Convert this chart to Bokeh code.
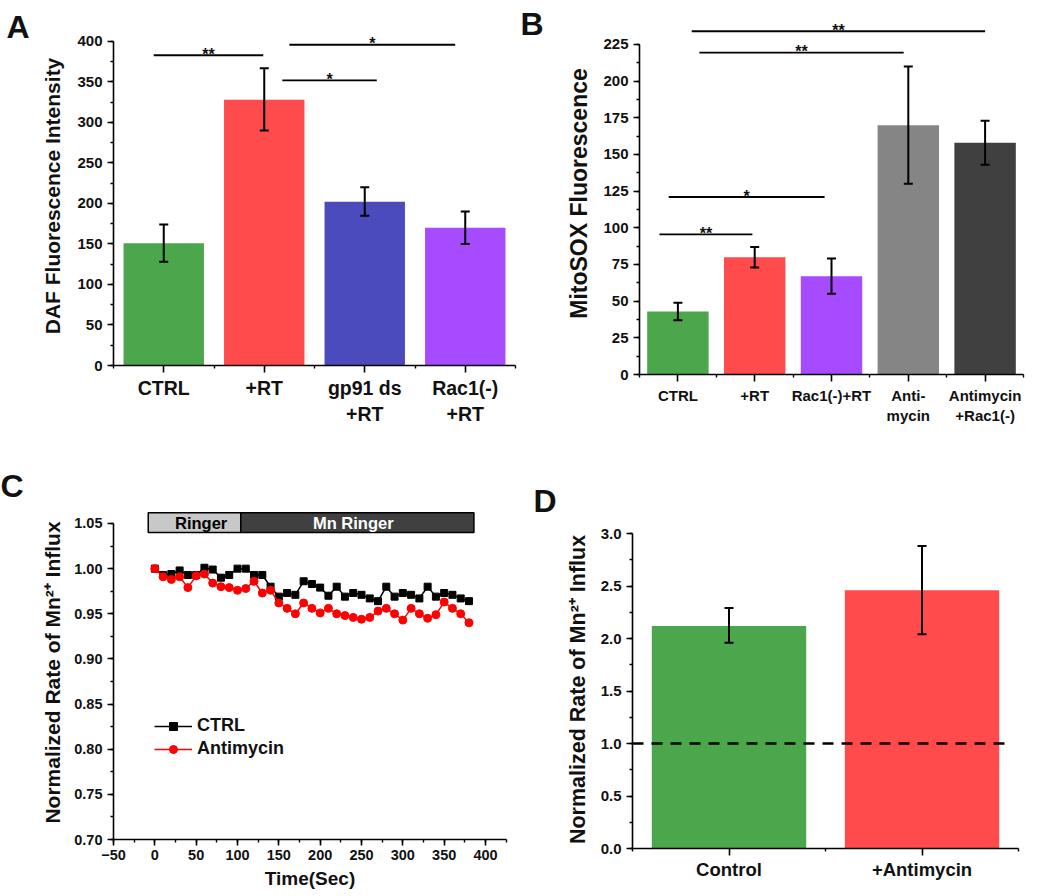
from bokeh.plotting import figure
from bokeh.layouts import column, row
from bokeh.models import (Range1d, FixedTicker, SingleIntervalTicker, Whisker, ColumnDataSource,
                          Label, PrintfTickFormatter, Legend, LegendItem)
from bokeh.embed import file_html
from bokeh.resources import INLINE
from bokeh.core.properties import value

FONT = "Liberation Sans"

# ---------------- Panel A data ----------------
a_categories = ["CTRL", "+RT", "gp91 ds\n+RT", "Rac1(-)\n+RT"]
a_values = [151, 328, 202, 170]
a_lower = [128, 290, 185, 150]
a_upper = [174, 367, 220, 190]
a_colors = ["#4CA64C", "#FF4B4B", "#4B4BBE", "#A64BFF"]
a_sig_x0 = [0.9, 2.25, 2.18]
a_sig_x1 = [1.99, 3.9, 3.12]
a_sig_y = [383, 396, 352]
a_sig_text = ["**", "*", "*"]

# ---------------- Panel B data ----------------
b_categories = ["CTRL", "+RT", "Rac1(-)+RT", "Anti-\nmycin", "Antimycin\n+Rac1(-)"]
b_values = [43, 80, 67, 170, 158]
b_lower = [37, 73, 55, 130, 143]
b_upper = [49, 87, 79, 210, 173]
b_colors = ["#4CA64C", "#FF4B4B", "#A64BFF", "#858585", "#404040"]
b_sig_x0 = [1.18, 1.28, 0.88, 0.76]
b_sig_x1 = [5.0, 3.94, 2.91, 1.97]
b_sig_y = [234, 219.5, 121, 95.5]
b_sig_text = ["**", "**", "*", "**"]

# ---------------- Panel C data ----------------
c_time = [0, 10, 20, 30, 40, 50, 60, 70, 80, 90, 100, 110, 120, 130, 140, 150, 160, 170, 180, 190,
          200, 210, 220, 230, 240, 250, 260, 270, 280, 290, 300, 310, 320, 330, 340, 350, 360, 370, 380]
c_ctrl = [1.000, 0.993, 0.994, 0.998, 0.993, 0.993, 1.001, 0.999, 0.990, 0.993,
          1.000, 1.000, 0.993, 0.993, 0.980, 0.969, 0.973, 0.971, 0.986, 0.983,
          0.979, 0.970, 0.980, 0.969, 0.973, 0.971, 0.967, 0.964, 0.980, 0.969,
          0.973, 0.971, 0.967, 0.980, 0.969, 0.973, 0.971, 0.967, 0.964]
c_anti = [1.000, 0.991, 0.988, 0.991, 0.979, 0.992, 0.994, 0.984, 0.980, 0.979,
          0.976, 0.978, 0.986, 0.973, 0.976, 0.962, 0.956, 0.950, 0.962, 0.956,
          0.951, 0.956, 0.950, 0.948, 0.946, 0.944, 0.946, 0.953, 0.956, 0.950,
          0.943, 0.956, 0.950, 0.945, 0.949, 0.963, 0.956, 0.950, 0.940]
c_box_left = [-8, 104]
c_box_right = [104, 386]
c_box_bottom = [1.040, 1.040]
c_box_top = [1.062, 1.062]
c_box_colors = ["#C8C8C8", "#404040"]
c_box_text = ["Ringer", "Mn Ringer"]
c_box_text_x = [56, 240]
c_box_text_colors = ["black", "white"]

# ---------------- Panel D data ----------------
d_categories = ["Control", "+Antimycin"]
d_values = [2.12, 2.46]
d_lower = [1.96, 2.04]
d_upper = [2.29, 2.88]
d_colors = ["#4CA64C", "#FF4B4B"]
d_ref_x = [0.5, 2.45]
d_ref_y = [1.0, 1.0]


def make_fig(width, height, bl, br, bt, bb, x_range, y_range):
    p = figure(width=width, height=height, x_range=x_range, y_range=y_range,
               output_backend="svg", toolbar_location=None,
               min_border_left=bl, min_border_right=br, min_border_top=bt, min_border_bottom=bb)
    p.frame_align = False
    p.outline_line_color = None
    p.grid.visible = False
    for ax in (p.xaxis[0], p.yaxis[0]):
        ax.axis_line_width = 1.6
        ax.major_tick_line_width = 1.6
        ax.minor_tick_line_width = 1.4
        ax.major_tick_in = 0
        ax.major_tick_out = 6
        ax.minor_tick_in = 0
        ax.minor_tick_out = 3
        ax.major_label_text_font = FONT
        ax.major_label_text_font_style = "bold"
        ax.major_label_text_color = "#111111"
        ax.axis_label_text_font = FONT
        ax.axis_label_text_font_style = "bold"
        ax.axis_label_text_color = "#111111"
    return p


def panel_letter(p, text, x, y):
    p.add_layout(Label(x=x, y=y, x_units="canvas", y_units="canvas", text=text,
                       text_font=FONT, text_font_style="bold", text_font_size="32px",
                       text_baseline="alphabetic", text_color="#111111"), "left")


def cat_axis(p, n, labels, font_size, standoff):
    ticks = list(range(1, n + 1))
    p.xaxis.ticker = FixedTicker(ticks=ticks, minor_ticks=[t - 0.5 for t in ticks] + [n + 0.5])
    p.xaxis.major_label_overrides = {t: lab for t, lab in zip(ticks, labels)}
    p.xaxis.major_label_text_font_size = font_size
    p.xaxis.major_label_standoff = standoff
    p.xaxis.major_tick_out = 7


def bars(p, vals, lower, upper, colors):
    xs = list(range(1, len(vals) + 1))
    src = ColumnDataSource(dict(x=xs, top=vals, lower=lower, upper=upper, color=colors))
    p.vbar(x="x", top="top", bottom=0, width=0.8, fill_color="color", line_color=None, source=src)
    w = Whisker(source=src, base="x", upper="upper", lower="lower", line_width=2,
                line_color="black", level="annotation")
    for h in (w.upper_head, w.lower_head):
        h.size = 9
        h.line_width = 2
        h.line_color = "black"
    p.add_layout(w)


def sig(p, x0, x1, y, texts, fs):
    p.segment(x0=x0, y0=y, x1=x1, y1=y, line_width=1.8, line_color="black")
    p.text(x=[(a + b) / 2 for a, b in zip(x0, x1)], y=y, text=texts,
           text_font=value(FONT), text_font_style="bold", text_font_size=fs,
           text_align="center", text_baseline="alphabetic", y_offset=-1, text_color="#111111")


# ---------------- Panel A ----------------
pA = make_fig(520, 455, 113, 5, 26, 90, Range1d(0.5, 4.5), Range1d(0, 418.5))
bars(pA, a_values, a_lower, a_upper, a_colors)
sig(pA, a_sig_x0, a_sig_x1, a_sig_y, a_sig_text, "16px")
cat_axis(pA, 4, a_categories, "19.5px", 4)
pA.yaxis.ticker = SingleIntervalTicker(interval=50, num_minor_ticks=2)
pA.yaxis.bounds = (0, 400)
pA.yaxis.major_label_text_font_size = "15px"
pA.yaxis.axis_label = "DAF Fluorescence Intensity"
pA.yaxis.axis_label_text_font_size = "21px"
pA.yaxis.axis_label_standoff = 10
panel_letter(pA, "A", 6, 26)

# ---------------- Panel B ----------------
pB = make_fig(528, 455, 119, 25, 12, 81, Range1d(0.5, 5.5), Range1d(0, 246.8))
bars(pB, b_values, b_lower, b_upper, b_colors)
sig(pB, b_sig_x0, b_sig_x1, b_sig_y, b_sig_text, "16px")
cat_axis(pB, 5, b_categories, "15px", 5)
pB.yaxis.ticker = SingleIntervalTicker(interval=25, num_minor_ticks=2)
pB.yaxis.bounds = (0, 225)
pB.yaxis.major_label_text_font_size = "15px"
pB.yaxis.axis_label = "MitoSOX Fluorescence"
pB.yaxis.axis_label_text_font_size = "23px"
pB.yaxis.axis_label_standoff = 8
panel_letter(pB, "B", 0, 23)

# ---------------- Panel C ----------------
pC = make_fig(520, 440, 113, 14, 50, 56, Range1d(-50, 425.4), Range1d(0.70, 1.06993))
pC.quad(left=c_box_left, right=c_box_right, bottom=c_box_bottom, top=c_box_top,
        fill_color=c_box_colors, line_color="black", line_width=1.5)
pC.text(x=c_box_text_x, y=[(b + t) / 2 for b, t in zip(c_box_bottom, c_box_top)], text=c_box_text,
        text_color=c_box_text_colors, text_font=value(FONT), text_font_style="bold",
        text_font_size="16.5px", text_align="center", text_baseline="middle")
l1 = pC.line(c_time, c_ctrl, line_color="black", line_width=1.5)
s1 = pC.scatter(c_time, c_ctrl, marker="square", size=7, color="black")
l2 = pC.line(c_time, c_anti, line_color="#FF0000", line_width=1.5)
s2 = pC.scatter(c_time, c_anti, marker="circle", size=8, color="#FF0000")
leg = Legend(items=[LegendItem(label="CTRL", renderers=[l1, s1]),
                    LegendItem(label="Antimycin", renderers=[l2, s2])],
             location=(41, 80), padding=0, margin=0, spacing=2, border_line_color=None,
             background_fill_alpha=0, glyph_width=38, glyph_height=20, label_height=20,
             label_standoff=5, label_text_font=FONT, label_text_font_style="bold",
             label_text_font_size="18px", label_text_color="#111111")
pC.add_layout(leg)
pC.xaxis.ticker = SingleIntervalTicker(interval=50, num_minor_ticks=2)
pC.yaxis.ticker = SingleIntervalTicker(interval=0.05, num_minor_ticks=2)
pC.yaxis.bounds = (0.70, 1.05)
pC.yaxis.formatter = PrintfTickFormatter(format="%.2f")
pC.xaxis.major_label_text_font_size = "14.5px"
pC.yaxis.major_label_text_font_size = "14.5px"
pC.xaxis.major_label_standoff = 4
pC.xaxis.axis_label = "Time(Sec)"
pC.xaxis.axis_label_text_font_size = "19px"
pC.xaxis.axis_label_standoff = 5
pC.yaxis.axis_label = "Normalized Rate of Mn²⁺ Influx"
pC.yaxis.axis_label_text_font_size = "21px"
pC.yaxis.axis_label_standoff = 7
panel_letter(pC, "C", 0, 30)

# ---------------- Panel D ----------------
pD = make_fig(528, 440, 112, 30, 75, 47, Range1d(0.5, 2.5), Range1d(0, 3.0286))
bars(pD, d_values, d_lower, d_upper, d_colors)
pD.line(d_ref_x, d_ref_y, line_color="black", line_width=2.5, line_dash="11 8")
cat_axis(pD, 2, d_categories, "18.5px", 3)
pD.yaxis.ticker = SingleIntervalTicker(interval=0.5, num_minor_ticks=2)
pD.yaxis.bounds = (0, 3.0)
pD.yaxis.formatter = PrintfTickFormatter(format="%.1f")
pD.yaxis.major_label_text_font_size = "15px"
pD.yaxis.axis_label = "Normalized Rate of Mn²⁺ Influx"
pD.yaxis.axis_label_text_font_size = "21.5px"
pD.yaxis.axis_label_standoff = 8
panel_letter(pD, "D", 13, 45)

layout = column(row(pA, pB), row(pC, pD))
open("out.html", "w").write(file_html(layout, INLINE))
